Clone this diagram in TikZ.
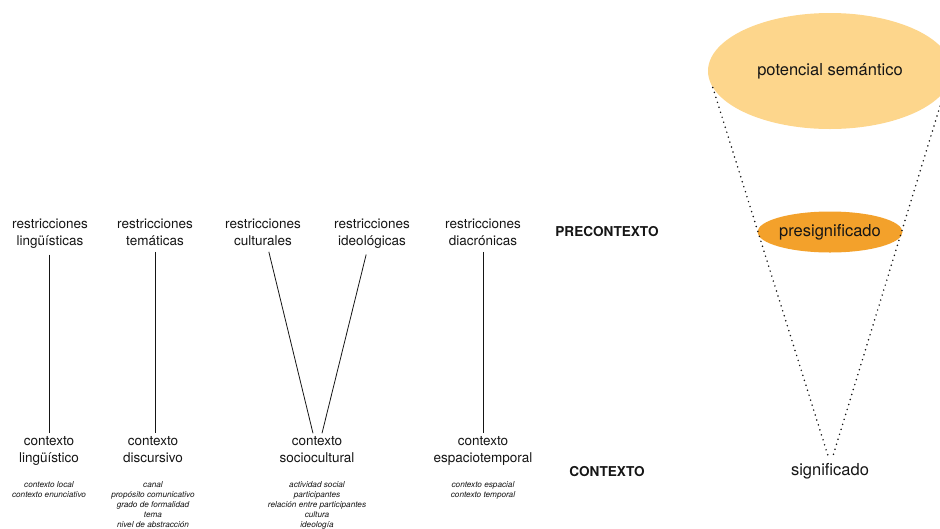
\documentclass[tikz,border=0pt]{standalone}
\usepackage{fontspec}
\setmainfont{TeX Gyre Heros}
\usetikzlibrary{shapes.geometric}

\definecolor{inktext}{HTML}{151515}
\definecolor{potfill}{RGB}{253,214,140}
\definecolor{presfill}{RGB}{243,161,43}

\tikzset{
  label/.style={align=center, inner sep=3pt, anchor=base, text=inktext,
    font=\fontsize{13.5}{16.5}\selectfont},
  detail/.style={align=center, inner sep=0pt, anchor=base, text=inktext,
    font=\fontsize{8.2}{9.8}\selectfont\itshape},
  level/.style={inner sep=0pt, anchor=base, text=inktext,
    font=\fontsize{13.6}{15}\selectfont\bfseries},
  blob/.style={ellipse, inner sep=0pt, text=inktext,
    font=\fontsize{16.5}{19}\selectfont},
  conn/.style={draw=inktext, line width=0.8pt, shorten <=3.5pt},
  dotline/.style={draw=inktext, line width=1.7pt, line cap=round,
    dash pattern=on 0pt off 5.2pt}
}

\begin{document}
\begin{tikzpicture}[x=1pt, y=-1pt]
\clip (0,0) rectangle (940,528);

% constraints (precontext level); base = last line
\node[label] (rl) at (50,245)  {restricciones\\lingüísticas};
\node[label] (rt) at (155,245) {restricciones\\temáticas};
\node[label] (rc) at (263,245) {restricciones\\culturales};
\node[label] (ri) at (372,245) {restricciones\\ideológicas};
\node[label] (rd) at (483,245) {restricciones\\diacrónicas};

% contexts (context level)
\node[label] (cl) at (49,462)  {contexto\\lingüístico};
\node[label] (cd) at (153,462) {contexto\\discursivo};
\node[label] (cs) at (317,462) {contexto\\sociocultural};
\node[label] (ce) at (483,462) {contexto\\espaciotemporal};

% details of each context
\node[detail] (dl) at (49,497)  {contexto local\\contexto enunciativo};
\node[detail] (dd) at (153,527) {canal\\propósito comunicativo\\grado de formalidad\\tema\\nivel de abstracción};
\node[detail] (ds) at (317,527) {actividad social\\participantes\\relación entre participantes\\cultura\\ideología};
\node[detail] (de) at (483,497) {contexto espacial\\contexto temporal};

% level names
\node[level] (pre) at (607,236) {PRECONTEXTO};
\node[level] (con) at (607,476) {CONTEXTO};

% links between constraints and contexts
\draw[conn] ([xshift=-1pt]rl.south) -- (cl.north);
\draw[conn] (rt.south) -- ([xshift=2pt]cd.north);
\draw[conn] ([xshift=5pt]rc.south) -- ([xshift=-4pt]cs.north);
\draw[conn] ([xshift=-5pt]ri.south) -- ([xshift=5pt]cs.north);
\draw[conn] (rd.south) -- (ce.north);

% meaning funnel
\node[blob, fill=potfill, minimum width=244pt, minimum height=116pt] (pot) at (830,71) {potencial semántico};
\node[blob, fill=presfill, minimum width=145pt, minimum height=41pt] (pres) at (830,232) {presignificado};
\node[inner sep=0pt, text=inktext, font=\fontsize{16.5}{19}\selectfont] (sig) at (830,471) {significado};
\coordinate (sigL) at (829,459);
\coordinate (sigR) at (832,459);

\draw[dotline] (pot.188.5) -- (sigL);
\draw[dotline] (pot.350) -- (sigR);
\end{tikzpicture}
\end{document}
